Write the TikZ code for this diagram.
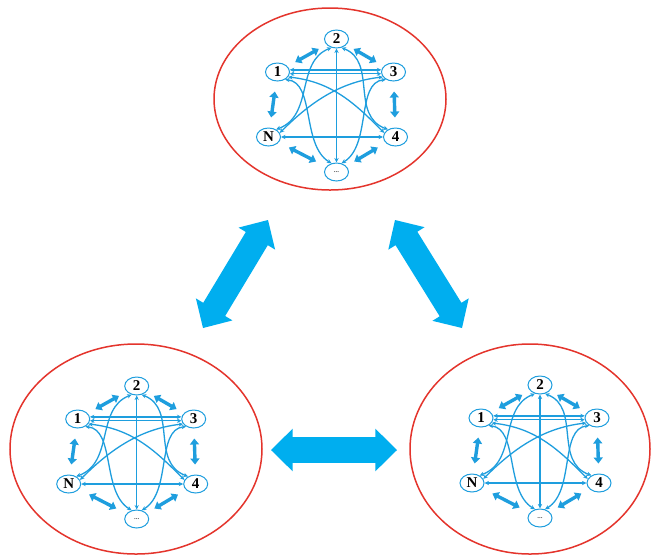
\documentclass[tikz,border=0pt]{standalone}
\usepackage{fontspec}
\setmainfont{Liberation Serif}
\usetikzlibrary{arrows.meta,calc,shapes.geometric}

\definecolor{ringred}{RGB}{228,52,44}
\definecolor{linkblue}{RGB}{30,158,222}
\definecolor{flowblue}{RGB}{0,174,239}

\tikzset{
  agent/.style={ellipse, draw=linkblue, line width=1pt, minimum width=24pt,
    minimum height=18pt, inner sep=0pt, text=black,
    font=\bfseries\fontsize{15}{15}\selectfont},
  link/.style={draw=linkblue, line width=1.3pt,
    {Stealth[length=4.5pt,width=4.2pt]}-{Stealth[length=4.5pt,width=4.2pt]}},
  neighbour/.style={draw=linkblue, line width=3.4pt,
    {Triangle[length=6pt,width=9pt]}-{Triangle[length=6pt,width=9pt]}},
  ring/.style={ellipse, draw=ringred, line width=1.5pt, inner sep=0pt},
  % one fully connected group of agents
  cluster/.pic={
    \node[agent] (-a2) at (0,0) {2};
    \node[agent] (-a1) at (-59,33) {1};
    \node[agent] (-a3) at (57,33) {3};
    \node[agent] (-aN) at (-68,98) {N};
    \node[agent] (-a4) at (59,98) {4};
    \node[agent, text=black!65, font=\bfseries\fontsize{7}{7}\selectfont] (-ad) at (0,133) {...};
    % neighbours on the ring
    \foreach \a/\b in {a1/a2,a2/a3,a3/a4,a4/ad,ad/aN,aN/a1}
      \draw[neighbour] ($(-\a)!0.3!(-\b)$) -- ($(-\a)!0.7!(-\b)$);
    % straight links
    \draw[link] (-a1.10) -- (-a3.170);
    \draw[link] (-a1.-8) -- (-a3.-172);
    \draw[link] (-aN) -- (-a4);
    \draw[link] (-a2) -- (-ad);
    % crossing links
    \draw[link] (-a1.-25) .. controls +(45,5) and +(-28,-28) .. (-a4.160);
    \draw[link] (-a3.-155) .. controls +(-45,5) and +(28,-28) .. (-aN.20);
    % links into the lower and upper agents
    \draw[link] (-a1.-45) .. controls +(30,3) and +(-30,-18) .. (-ad.120);
    \draw[link] (-a3.-135) .. controls +(-30,3) and +(30,-18) .. (-ad.60);
    \draw[link] (-aN.45) .. controls +(38,-14) and +(-36,14) .. (-a2.-120);
    \draw[link] (-a4.135) .. controls +(-38,-14) and +(36,14) .. (-a2.-60);
  }
}

% broad two-headed arrow between two named points
\newcommand{\flowarrow}[2]{%
  \fill[flowblue] (#1)
    -- ($(#1)!21.7pt!(#2)!21.35pt!90:(#2)$)
    -- ($(#1)!21.7pt!(#2)!12.8pt!90:(#2)$)
    -- ($(#2)!21.7pt!(#1)!12.8pt!-90:(#1)$)
    -- ($(#2)!21.7pt!(#1)!21.35pt!-90:(#1)$)
    -- (#2)
    -- ($(#2)!21.7pt!(#1)!21.35pt!90:(#1)$)
    -- ($(#2)!21.7pt!(#1)!12.8pt!90:(#1)$)
    -- ($(#1)!21.7pt!(#2)!12.8pt!-90:(#2)$)
    -- ($(#1)!21.7pt!(#2)!21.35pt!-90:(#2)$)
    -- cycle;}

\begin{document}
\begin{tikzpicture}[x=1pt,y=-1pt]
  \useasboundingbox (0,0) rectangle (655,558);
  \fill[white] (0,0) rectangle (655,558);

  % groups
  \node[ring, minimum width=232pt, minimum height=182pt] (gtop) at (330,99) {};
  \node[ring, minimum width=252pt, minimum height=210pt] (gleft) at (136,449) {};
  \node[ring, minimum width=240pt, minimum height=210pt] (gright) at (530,449) {};

  % exchanges between groups
  \coordinate (tl) at (268,220);
  \coordinate (lt) at (203,328);
  \coordinate (tr) at (395,220);
  \coordinate (rt) at (462,328);
  \coordinate (lr) at (271,450);
  \coordinate (rl) at (397,450);
  \flowarrow{tl}{lt}
  \flowarrow{tr}{rt}
  \flowarrow{lr}{rl}

  % agents inside each group
  \pic (top) at (336.5,39) {cluster};
  \pic (left) at (136.7,386) {cluster};
  \pic (right) at (540,385) {cluster};
\end{tikzpicture}
\end{document}
